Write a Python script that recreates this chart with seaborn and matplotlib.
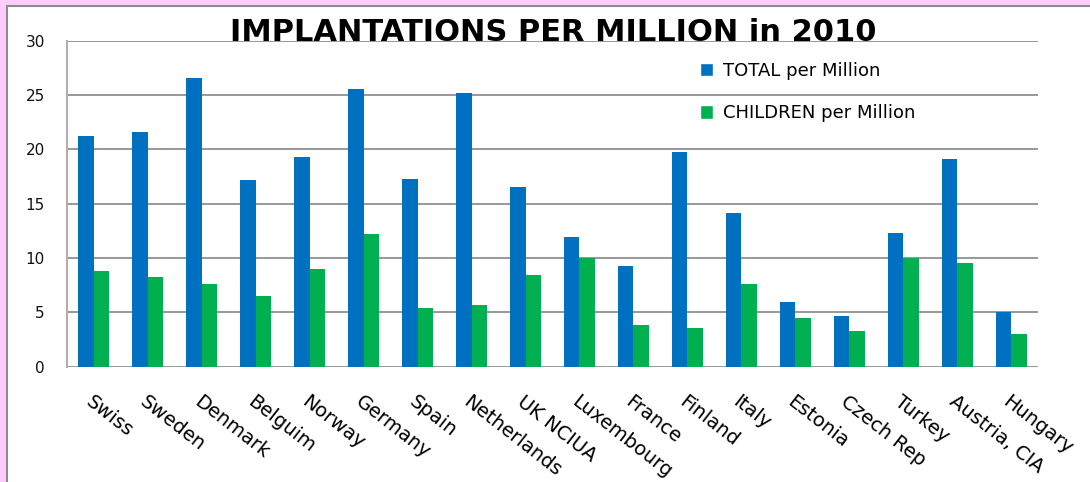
import matplotlib
matplotlib.use("Agg")
import matplotlib.pyplot as plt
import seaborn as sns
import pandas as pd
from matplotlib.patches import Rectangle, Patch

countries = ["Swiss", "Sweden", "Denmark", "Belguim", "Norway", "Germany", "Spain",
             "Netherlands", "UK NCIUA", "Luxembourg", "France", "Finland", "Italy",
             "Estonia", "Czech Rep", "Turkey", "Austria, CIA", "Hungary"]
total_per_million = [21.2, 21.6, 26.6, 17.2, 19.3, 25.6, 17.3, 25.2, 16.5, 11.9,
                     9.3, 19.8, 14.1, 6.0, 4.7, 12.3, 19.1, 5.0]
children_per_million = [8.8, 8.3, 7.6, 6.5, 9.0, 12.2, 5.4, 5.7, 8.4, 10.0,
                        3.8, 3.6, 7.6, 4.5, 3.3, 10.0, 9.5, 3.0]
series_names = ["TOTAL per Million", "CHILDREN per Million"]
title_text = "IMPLANTATIONS PER MILLION in 2010"
y_ticks = [0, 5, 10, 15, 20, 25, 30]

colors = ["#0070C0", "#00B050"]

df = pd.DataFrame({
    "country": countries * 2,
    "value": total_per_million + children_per_million,
    "series": [series_names[0]] * len(countries) + [series_names[1]] * len(countries),
})

sns.set_style("white")
fig = plt.figure(figsize=(10.9, 4.82), dpi=100)
fig.patch.set_facecolor("#FFCCFF")
fig.patches.append(Rectangle((7 / 1090, -0.1), 1.2, 1 - 5.5 / 482 + 0.1,
                             transform=fig.transFigure, facecolor="white",
                             edgecolor="#8C8C8C", linewidth=1.5, zorder=-10))

ax = fig.add_axes([67 / 1090, 1 - 366.7 / 482, (1038 - 67) / 1090, 326 / 482])
ax.set_zorder(1)
ax.set_facecolor("none")
sns.barplot(data=df, x="country", y="value", hue="series", palette=colors,
            width=0.575, gap=0, ax=ax, legend=False, saturation=1,
            linewidth=0, edgecolor="none")

ax.set_ylim(0, 30)
ax.set_xlim(-0.5, len(countries) - 0.5)
ax.set_yticks(y_ticks)
ax.set_yticklabels([str(v) for v in y_ticks], fontsize=11, color="#111111",
                   family="DejaVu Sans")
ax.yaxis.grid(True, color="#868686", linewidth=1.2)
ax.set_axisbelow(True)
ax.tick_params(axis="y", length=5, color="#868686", pad=11, width=1.2)
ax.set_xlabel("")
ax.set_ylabel("")

for s in ["top", "right", "bottom"]:
    ax.spines[s].set_visible(False)
ax.spines["left"].set_color("#B0B0B0")
ax.spines["left"].set_linewidth(1.5)

ax.set_xticks(range(len(countries)))
ax.set_xticklabels(countries, rotation=-38, ha="left", va="top",
                   rotation_mode="anchor", fontsize=14, family="DejaVu Sans",
                   color="black")
ax.tick_params(axis="x", length=0, pad=18)
ax.set_xticks([i - 0.5 for i in range(len(countries) + 1)], minor=True)
ax.tick_params(axis="x", which="minor", length=6, color="#B0B0B0", width=1.5)

handles = [Patch(facecolor=c) for c in colors]
leg = ax.legend(handles, series_names, loc="upper left", bbox_to_anchor=(0.635, 0.985),
                frameon=False, handlelength=0.75, handleheight=0.75, handletextpad=0.55,
                labelspacing=1.35, prop={"family": "DejaVu Sans", "size": 13})
for t in leg.get_texts():
    t.set_color("black")

fig.text(553 / 1090, 1 - 41 / 482, title_text, ha="center", va="baseline",
         fontsize=22, fontweight="bold", family="DejaVu Sans", color="black",
         zorder=5)

fig.savefig("out.png", dpi=100, facecolor=fig.get_facecolor())
